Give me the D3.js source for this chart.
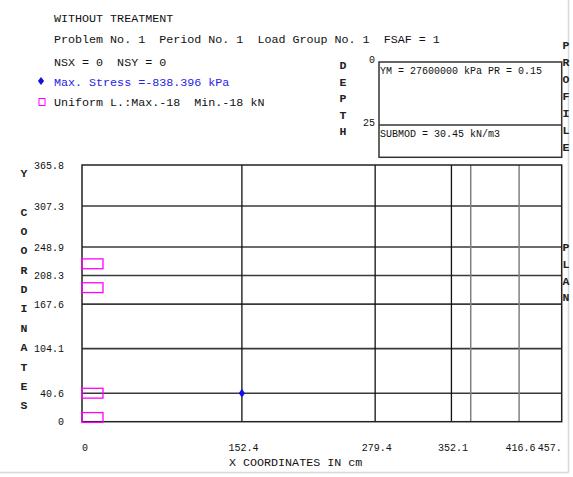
<!DOCTYPE html>
<html>
<head>
<meta charset="utf-8">
<script src="https://cdn.jsdelivr.net/npm/d3@7"></script>
<style>
  html, body { margin: 0; padding: 0; background: #fff; }
  svg { display: block; }
  text { white-space: pre; }
</style>
</head>
<body>
<script>
// ---- data ----
const headerLines = [
  "WITHOUT TREATMENT",
  "Problem No. 1  Period No. 1  Load Group No. 1  FSAF = 1",
  "NSX = 0  NSY = 0"
];
const stressLabel = "Max. Stress =-838.396 kPa";
const loadLabel = "Uniform L.:Max.-18  Min.-18 kN";
const xTicks = [0, 152.4, 279.4, 352.1, 416.6, 457.2];
const xTickLabels = ["0", "152.4", "279.4", "352.1", "416.6", "457."];
const xGridDark = [152.4, 279.4, 352.1];
const xGridLight = [370.5, 416.6];
const yTicks = [0, 40.6, 104.1, 167.6, 208.3, 248.9, 307.3, 365.8];
const yTickLabels = ["0", "40.6", "104.1", "167.6", "208.3", "248.9", "307.3", "365.8"];
const loadX0 = [0, 0, 0, 0];
const loadX1 = [20, 20, 20, 20];
const loadY0 = [-1, 33.6, 184, 218];
const loadY1 = [13, 47.6, 198, 232];
const maxStressX = [152.4];
const maxStressY = [40.6];
const depthTicks = [0, 25];
const layerTexts = ["YM = 27600000 kPa PR = 0.15", "SUBMOD = 30.45 kN/m3"];
const yAxisLetters = ["Y", "", "C", "O", "O", "R", "D", "I", "N", "A", "T", "E", "S"];
const depthLetters = ["D", "E", "P", "T", "H"];
const profileLetters = ["P", "R", "O", "F", "I", "L", "E"];
const planLetters = ["P", "L", "A", "N"];

// ---- drawing ----
const W = 573, H = 477;
const FONT = "'Liberation Mono', 'DejaVu Sans Mono', monospace";
const svg = d3.select("body").append("svg").attr("width", W).attr("height", H);

// light outer border (right / bottom)
svg.append("line").attr("x1", 568.5).attr("x2", 568.5).attr("y1", 0).attr("y2", 472.5)
  .attr("stroke", "#d8d8d8").attr("stroke-width", 1.5);
svg.append("line").attr("x1", 0).attr("x2", 568.5).attr("y1", 472.5).attr("y2", 472.5)
  .attr("stroke", "#d8d8d8").attr("stroke-width", 1.5);

const x = d3.scaleLinear().domain([0, 457.2]).range([82, 561.7]);
const y = d3.scaleLinear().domain([0, 365.8]).range([421.7, 165]);

// header text
const headerY = [18, 39, 62];
headerLines.forEach((t, i) => {
  svg.append("text").attr("x", 54).attr("y", headerY[i]).attr("dy", "0.35em")
    .attr("font-family", FONT).attr("font-size", 11.7).attr("fill", "#111").text(t);
});
svg.append("text").attr("x", 54).attr("y", 82).attr("dy", "0.35em")
  .attr("font-family", FONT).attr("font-size", 11.7).attr("fill", "#2323e8").text(stressLabel);
svg.append("path").attr("d", d3.symbol(d3.symbolDiamond, 30)())
  .attr("transform", "translate(41,81) scale(1.05,0.8)").attr("fill", "#1010e0");
svg.append("text").attr("x", 54).attr("y", 102).attr("dy", "0.35em")
  .attr("font-family", FONT).attr("font-size", 11.7).attr("fill", "#111").text(loadLabel);
svg.append("rect").attr("x", 39).attr("y", 98.5).attr("width", 6).attr("height", 7)
  .attr("fill", "none").attr("stroke", "#ff00ff").attr("stroke-width", 1);

// depth profile box
const dy = d3.scaleLinear().domain([0, 25]).range([62, 125]);
svg.append("rect").attr("x", 379).attr("y", dy(0)).attr("width", 561.7 - 379).attr("height", 157.3 - dy(0))
  .attr("fill", "none").attr("stroke", "#333").attr("stroke-width", 1.5);
svg.append("line").attr("x1", 379).attr("x2", 561.7).attr("y1", dy(25)).attr("y2", dy(25))
  .attr("stroke", "#333").attr("stroke-width", 1.5);
depthTicks.forEach(d => {
  svg.append("text").attr("x", 375).attr("y", dy(d) - 3).attr("text-anchor", "end")
    .attr("dy", "0.35em").attr("font-family", FONT).attr("font-size", 10).attr("fill", "#111").text(d);
});
layerTexts.forEach((t, i) => {
  svg.append("text").attr("x", 380).attr("y", dy(depthTicks[i]) + 8.5).attr("dy", "0.35em")
    .attr("font-family", FONT).attr("font-size", 10).attr("fill", "#111").text(t);
});

// vertical letter labels
function vLetters(letters, cx, y0, step) {
  letters.forEach((l, i) => {
    svg.append("text").attr("x", cx).attr("y", y0 + i * step).attr("dy", "0.35em")
      .attr("text-anchor", "middle").attr("font-family", FONT).attr("font-weight", "bold")
      .attr("font-size", 11.5).attr("fill", "#222").text(l);
  });
}
vLetters(yAxisLetters, 24, 173, 19.35);
vLetters(depthLetters, 343, 65, 16.6);
vLetters(profileLetters, 566, 45, 17);
vLetters(planLetters, 566, 247, 16.8);

// grid lines
const g = svg.append("g");
yTicks.filter(v => v > 0 && v < 365.8).forEach(v => {
  g.append("line").attr("x1", x(0)).attr("x2", x(457.2)).attr("y1", y(v)).attr("y2", y(v))
    .attr("stroke", "#3a3a3a").attr("stroke-width", 1.6);
});
xGridLight.forEach(v => {
  g.append("line").attr("x1", x(v)).attr("x2", x(v)).attr("y1", y(0)).attr("y2", y(365.8))
    .attr("stroke", "#808080").attr("stroke-width", 1.5);
});
xGridDark.forEach(v => {
  g.append("line").attr("x1", x(v)).attr("x2", x(v)).attr("y1", y(0)).attr("y2", y(365.8))
    .attr("stroke", "#111").attr("stroke-width", 1.3);
});
// frame
g.append("rect").attr("x", x(0)).attr("y", y(365.8)).attr("width", x(457.2) - x(0)).attr("height", y(0) - y(365.8))
  .attr("fill", "none").attr("stroke", "#222").attr("stroke-width", 1.5);

// axis tick labels
yTicks.forEach((v, i) => {
  svg.append("text").attr("x", 64).attr("y", y(v)).attr("dy", "0.35em").attr("text-anchor", "end")
    .attr("font-family", FONT).attr("font-size", 10).attr("fill", "#111").text(yTickLabels[i]);
});
xTicks.forEach((v, i) => {
  const last = i === xTicks.length - 1;
  svg.append("text").attr("x", i === 0 ? x(v) + 3 : (last ? x(v) : x(v) + 1.5)).attr("y", 447).attr("dy", "0.35em")
    .attr("text-anchor", last ? "end" : "middle").attr("font-family", FONT).attr("font-size", 10).attr("fill", "#111")
    .text(xTickLabels[i]);
});
svg.append("text").attr("x", 229).attr("y", 462).attr("dy", "0.35em")
  .attr("font-family", FONT).attr("font-size", 11.7).attr("fill", "#111").text("X COORDINATES IN cm");

// loads
loadX0.forEach((_, i) => {
  svg.append("rect").attr("x", x(loadX0[i])).attr("y", y(loadY1[i]))
    .attr("width", x(loadX1[i]) - x(loadX0[i])).attr("height", y(loadY0[i]) - y(loadY1[i]))
    .attr("fill", "none").attr("stroke", "#ff00ff").attr("stroke-width", 1.3);
});

// max stress point
maxStressX.forEach((v, i) => {
  svg.append("path").attr("d", d3.symbol(d3.symbolDiamond, 34)())
    .attr("transform", `translate(${x(v)},${y(maxStressY[i])}) scale(1.0,0.8)`).attr("fill", "#1010f0");
});
</script>
</body>
</html>
